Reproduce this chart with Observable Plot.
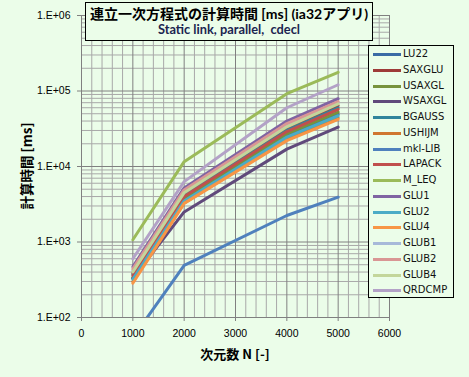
<!DOCTYPE html>
<html><head><meta charset="utf-8">
<script src="https://cdn.jsdelivr.net/npm/d3@7"></script>
<script src="https://cdn.jsdelivr.net/npm/@observablehq/plot@0.6"></script>
<style>
body{margin:0;background:#EBFDE9;}
#wrap{position:relative;width:469px;height:377px;background:#EBFDE9;overflow:hidden;}
#title{position:absolute;left:85px;top:2px;width:288px;height:39px;border:1px solid #000;background:#EBFDE9;text-align:center;box-sizing:border-box;}
#t1{font-family:Lato,"Noto Sans CJK JP";font-weight:bold;font-size:14px;line-height:17px;margin-top:2px;color:#000;white-space:nowrap;}
#t2{font-family:Lato,"Noto Sans CJK JP";font-weight:bold;font-size:12.8px;line-height:15px;color:#1b2450;}
#legend{position:absolute;left:368px;top:45px;width:86px;height:253px;border:1px solid #000;background:#EBFDE9;box-sizing:border-box;}
.li{position:absolute;left:0;height:14px;font-family:"DejaVu Sans";font-size:10px;color:#111;}
.li span.sw{position:absolute;left:4px;top:6px;width:28px;height:3px;}
.li span.tx{position:absolute;left:34px;top:0;line-height:14px;white-space:nowrap;}
#ylab{position:absolute;left:26px;top:166px;transform:translate(-50%,-50%) rotate(-90deg);font-family:"Noto Sans CJK JP";font-weight:bold;font-size:13.5px;white-space:nowrap;}
#xlab{position:absolute;left:235px;top:353px;transform:translate(-50%,-50%);font-family:"Noto Sans CJK JP";font-weight:bold;font-size:13px;white-space:nowrap;}
</style></head>
<body>
<div id="wrap">
<div id="chart"></div>
<div id="title"><div id="t1">連立一次方程式の計算時間 [ms] (ia32アプリ)</div><div id="t2">Static link, parallel,&nbsp; cdecl</div></div>
<div id="legend"></div>
<div id="ylab">計算時間 [ms]</div>
<div id="xlab">次元数 N [-]</div>
</div>
<script>
// Data (matrix size N vs time in ms)
const sizes = [1000, 2000, 4000, 5000];
const seriesNames = ["LU22","SAXGLU","USAXGL","WSAXGL","BGAUSS","USHIJM","mkl-LIB","LAPACK","M_LEQ","GLU1","GLU2","GLU4","GLUB1","GLUB2","GLUB4","QRDCMP"];
const seriesColors = ["#3A6BA5","#9E3B38","#77933C","#604A7B","#31859C","#D07730","#4F81BD","#C0504D","#9BBB59","#8064A2","#4BACC6","#F79646","#A7B9D9","#D99694","#C3D69B","#B3A2C7"];
const LU22   = [330, 3600, 25500, 49000];
const SAXGLU = [390, 4300, 32000, 64000];
const USAXGL = [340, 3800, 27000, 52500];
const WSAXGL = [330, 2500, 17000, 33200];
const BGAUSS = [370, 4100, 30000, 60000];
const USHIJM = [300, 3300, 23000, 44000];
const mklLIB = [54, 489, 2245, 3920];
const LAPACK = [360, 4000, 29000, 57000];
const M_LEQ  = [1070, 11600, 92000, 177000];
const GLU1   = [470, 5200, 40000, 79000];
const GLU2   = [320, 3500, 24500, 47000];
const GLU4   = [284, 3250, 22000, 42000];
const GLUB1  = [420, 4700, 35000, 70000];
const GLUB2  = [440, 4900, 37000, 72500];
const GLUB4  = [400, 4500, 33500, 67500];
const QRDCMP = [600, 6300, 60000, 121000];
const seriesValues = [LU22,SAXGLU,USAXGL,WSAXGL,BGAUSS,USHIJM,mklLIB,LAPACK,M_LEQ,GLU1,GLU2,GLU4,GLUB1,GLUB2,GLUB4,QRDCMP];
const xTicks = [0,1000,2000,3000,4000,5000,6000];
const yTicks = [1e2,1e3,1e4,1e5,1e6];
const yTickLabels = ["1.E+02","1.E+03","1.E+04","1.E+05","1.E+06"];

const data = seriesNames.flatMap((s,i)=>sizes.map((n,j)=>({series:s, n, t:seriesValues[i][j]})));
const xMinor = d3.range(0,6001,200).filter(v=>v%1000!==0);
const yMinor = yTicks.slice(0,-1).flatMap(d=>d3.range(2,10).map(k=>k*d));

const plot = Plot.plot({
  width:469, height:377, marginLeft:81, marginRight:80, marginTop:15, marginBottom:60,
  style:{background:"transparent", fontFamily:"Liberation Sans", fontSize:"10.5px", color:"#000", overflow:"visible"},
  x:{domain:[0,6000]},
  y:{type:"log", domain:[100,1e6]},
  color:{domain:seriesNames, range:seriesColors},
  marks:[
    Plot.ruleX(xMinor,{stroke:"#a8a8a8", strokeWidth:1}),
    Plot.ruleY(yMinor,{stroke:"#a8a8a8", strokeWidth:1}),
    Plot.ruleX(xTicks,{stroke:"#808080", strokeWidth:1}),
    Plot.ruleY(yTicks,{stroke:"#808080", strokeWidth:1}),
    Plot.axisX({ticks:xTicks, tickSize:4, tickPadding:8, tickFormat:d=>String(d), label:null, stroke:"#808080"}),
    Plot.axisY({ticks:yTicks, tickSize:4, tickPadding:7, tickFormat:(d,i)=>yTickLabels[yTicks.indexOf(d)], label:null, stroke:"#808080"}),
    Plot.line(data,{x:"n", y:"t", z:"series", stroke:"series", strokeWidth:3, clip:true})
  ]
});
document.getElementById("chart").appendChild(plot);

const lg = document.getElementById("legend");
seriesNames.forEach((s,i)=>{
  const d = document.createElement("div");
  d.className="li";
  d.style.top = (1 + i*15.75) + "px";
  d.innerHTML = `<span class="sw" style="background:${seriesColors[i]}"></span><span class="tx">${s}</span>`;
  lg.appendChild(d);
});
</script>
</body></html>
